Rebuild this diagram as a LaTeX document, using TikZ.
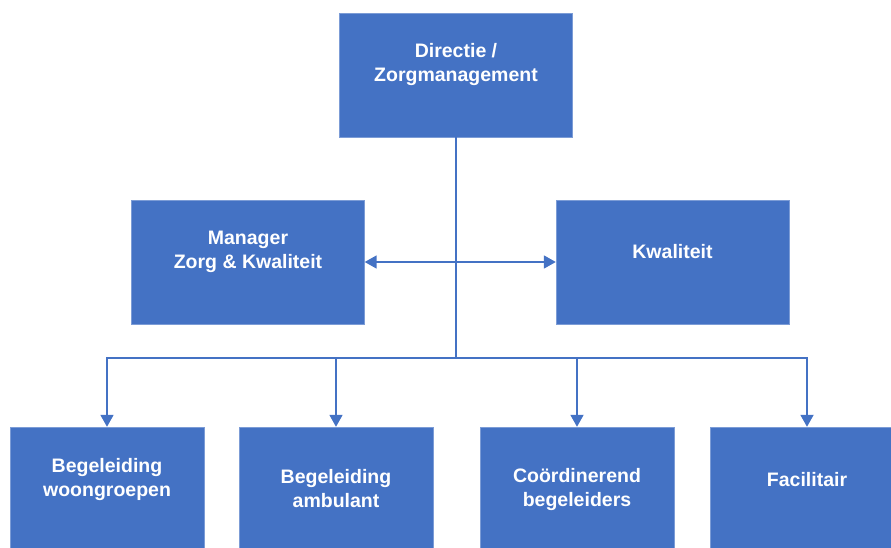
\documentclass[tikz,border=0pt]{standalone}
\usepackage{fontspec}
\setmainfont{Liberation Sans}
\usetikzlibrary{arrows.meta, positioning}
\definecolor{officeblue}{HTML}{4472C4}

\begin{document}
\begin{tikzpicture}[
    x=1pt, y=-1pt,
    box/.style={rectangle, fill=officeblue, draw=officeblue!70!white, line width=0.4pt, minimum width=233pt, minimum height=124pt, inner sep=0pt},
    small box/.style={box, minimum width=194pt},
    box text/.style={text=white, font=\fontsize{19.5}{24}\selectfont\bfseries, align=center},
    link/.style={draw=officeblue, line width=1.8pt},
    arrow/.style={link, -{Triangle[width=13pt,length=12pt]}},
    both arrow/.style={link, {Triangle[width=13pt,length=12pt]}-{Triangle[width=13pt,length=12pt]}}
]
    \useasboundingbox (0,0) rectangle (891,548);
    \clip (0,0) rectangle (891,548);

    % Top
    \node[box, label={[box text, yshift=10pt]center:Directie /\\Zorgmanagement}] (dir) at (456,75) {};

    % Staff
    \node[box, label={[box text, yshift=10pt]center:Manager\\Zorg \& Kwaliteit}] (mgr) at (248,262) {};
    \node[box, label={[box text, yshift=10pt]center:Kwaliteit}] (kwal) at (672.5,262) {};

    % Departments
    \node[small box, label={[box text, yshift=10pt]center:Begeleiding\\woongroepen}] (woon) at (107,489) {};
    \node[small box, label={[box text]center:Begeleiding\\ambulant}] (amb) at (336,489) {};
    \node[small box, label={[box text]center:Coördinerend\\begeleiders}] (coord) at (577,489) {};
    \node[small box, label={[box text, yshift=9pt]center:Facilitair}] (fac) at (807,489) {};

    % Connections
    \coordinate (bus) at (456,358);
    \draw[link] (dir.south) -- (bus);
    \draw[both arrow] (mgr.east) -- (kwal.west);
    \foreach \dept in {woon, amb, coord, fac} {
        \draw[arrow] (bus) -| (\dept.north);
    }
\end{tikzpicture}
\end{document}
